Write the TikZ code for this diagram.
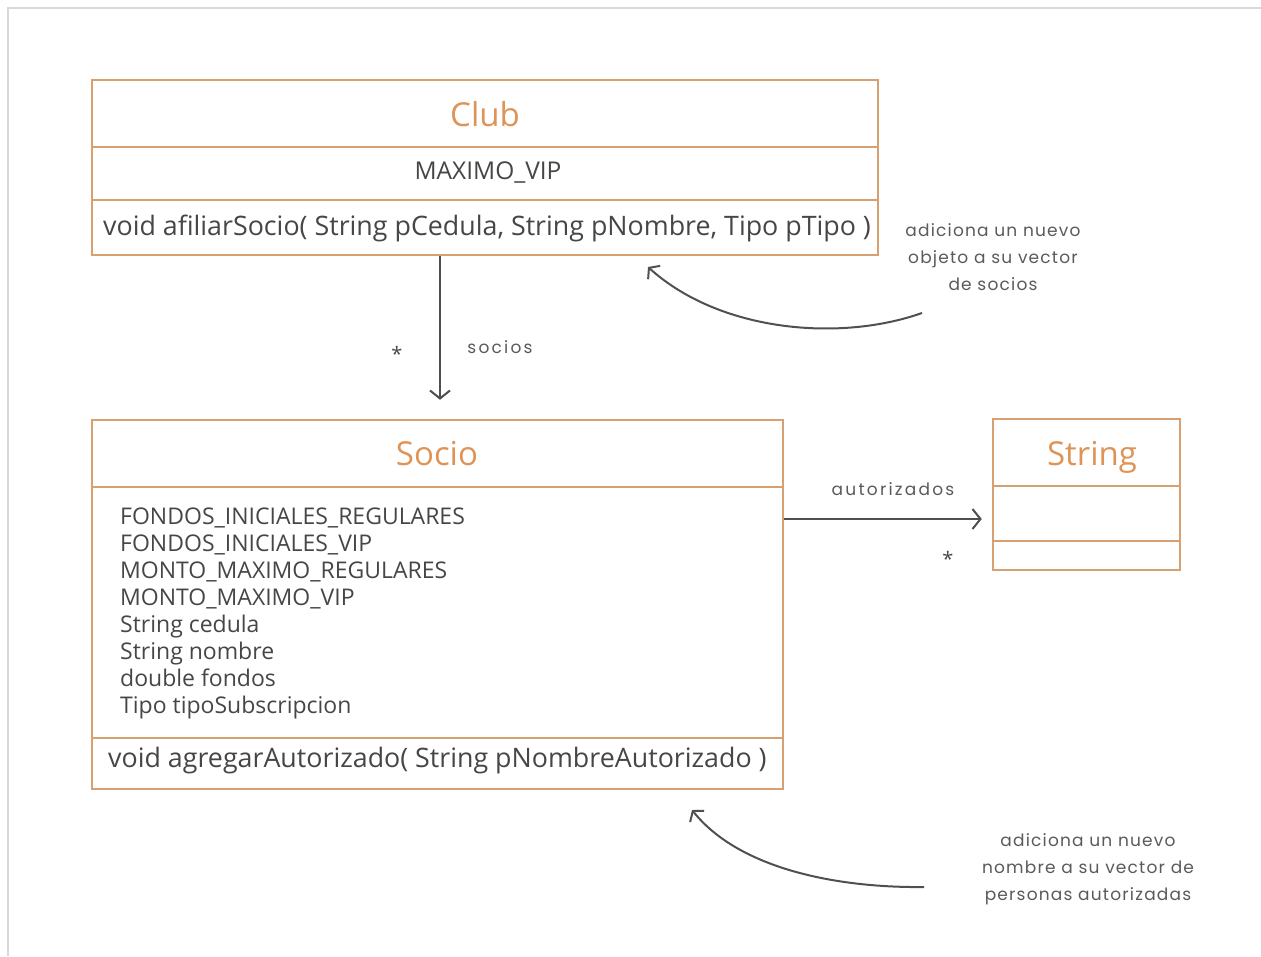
\documentclass[tikz,border=0pt]{standalone}
\usepackage{fontspec}
\setmainfont{Open Sans}
\newfontfamily\handfont{Poppins}[LetterSpace=7]
\newfontfamily\handspaced{Poppins}[LetterSpace=13]
\usetikzlibrary{arrows.meta}
\definecolor{boxc}{RGB}{214,160,112}
\definecolor{titlec}{RGB}{222,148,86}
\definecolor{txtc}{RGB}{70,70,70}
\definecolor{linec}{RGB}{80,80,80}
\definecolor{framec}{RGB}{217,217,217}
\definecolor{notec}{RGB}{90,90,90}
\begin{document}
\begin{tikzpicture}[x=1pt,y=-1pt,
  classbox/.style={draw=boxc, line width=2.5pt, inner sep=0pt},
  divider/.style={draw=boxc, line width=2.5pt},
  title/.style={text=titlec, font=\fontsize{33}{38}\selectfont, inner sep=0pt},
  member/.style={text=txtc, font=\fontsize{23}{27}\selectfont, inner sep=0pt},
  method/.style={text=txtc, font=\fontsize{26.8}{30}\selectfont, inner sep=0pt},
  assoc/.style={draw=linec, line width=2pt, -{Straight Barb[length=8pt,width=20pt,line width=2pt]}},
  notearrow/.style={draw=linec, line width=2pt, -{Straight Barb[length=7pt,width=18pt,line width=2pt]}},
  lbl/.style={text=notec, font=\handspaced\fontsize{17}{27}\selectfont, inner sep=0pt},
  note/.style={text=notec, font=\handfont\fontsize{17}{27}\selectfont, inner sep=0pt, align=center},
  mult/.style={text=txtc, font=\fontsize{20}{24}\selectfont, inner sep=0pt}]

\useasboundingbox (0,0) rectangle (1261,956);
\draw[framec, line width=2pt] (1261,8) -- (8,8) -- (8,956);

% Club
\node[classbox, minimum width=786, minimum height=175] (club) at (485,167.5) {};
\draw[divider] (club.west |- 0,147) -- (club.east |- 0,147);
\draw[divider] (club.west |- 0,200) -- (club.east |- 0,200);
\node[title] (clubT) at (485,114) {Club};
\node[member, font=\fontsize{24.5}{27}\selectfont] (clubA) at (488,172) {MAXIMO\_VIP};
\node[method] (clubM) at (487,228) {void afiliarSocio( String pCedula, String pNombre, Tipo pTipo )};

% Socio
\node[classbox, minimum width=691, minimum height=369] (socio) at (437.5,604.5) {};
\draw[divider] (socio.west |- 0,487) -- (socio.east |- 0,487);
\draw[divider] (socio.west |- 0,738) -- (socio.east |- 0,738);
\node[title] (socioT) at (437,454) {Socio};
\node[member, anchor=north west, align=left] (socioA) at (120,508) {FONDOS\_INICIALES\_REGULARES\\FONDOS\_INICIALES\_VIP\\MONTO\_MAXIMO\_REGULARES\\MONTO\_MAXIMO\_VIP\\String cedula\\String nombre\\double fondos\\Tipo tipoSubscripcion};
\node[method, anchor=west] (socioM) at (108,761) {void agregarAutorizado( String pNombreAutorizado )};

% String
\node[classbox, minimum width=187, minimum height=151] (string) at (1086.5,494.5) {};
\draw[divider] (string.west |- 0,486) -- (string.east |- 0,486);
\draw[divider] (string.west |- 0,541) -- (string.east |- 0,541);
\node[title] (stringT) at (1092,457) {String};

% associations
\coordinate (ax) at (440,0);
\draw[assoc, shorten >=19pt] (club.south -| ax) -- (socio.north -| ax);
\node[mult] (m1) at (397,354) {*};
\node[lbl] (l1) at (500,347) {socios};

\draw[assoc, shorten >=10pt] (socio.east |- 0,519) -- (string.west |- 0,519);
\node[lbl] (l2) at (893,489) {autorizados};
\node[mult] (m2) at (948,559) {*};

% notes
\node[note] (n1) at (993,257) {adiciona un nuevo\\objeto a su vector\\de socios};
\coordinate (n1s) at (922,313);
\coordinate (n1e) at (648,267);
\draw[notearrow] (n1s) .. controls (840,342) and (720,332) .. (n1e);

\node[note] (n2) at (1088,869) {adiciona un nuevo\\nombre a su vector de\\personas autorizadas};
\coordinate (n2s) at (924,887);
\coordinate (n2e) at (692,810);
\draw[notearrow] (n2s) .. controls (840,888) and (740,870) .. (n2e);
\end{tikzpicture}
\end{document}
